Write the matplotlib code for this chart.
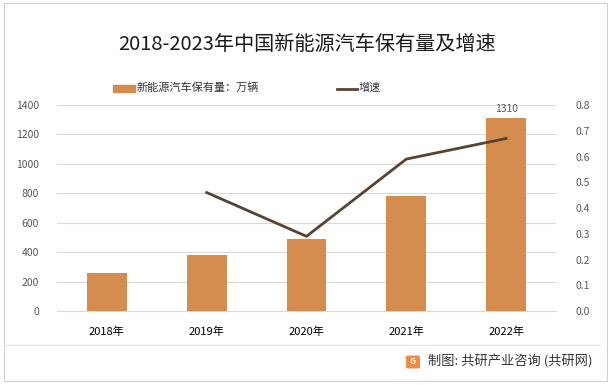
import matplotlib.pyplot as plt
from matplotlib.patches import FancyBboxPatch, Rectangle
from matplotlib.lines import Line2D

plt.rcParams['font.family'] = ['Noto Sans CJK SC', 'DejaVu Sans']

years = ['2018年', '2019年', '2020年', '2021年', '2022年']
stock = [261, 381, 492, 784, 1310]
growth_years = ['2019年', '2020年', '2021年', '2022年']
growth = [0.46, 0.29, 0.59, 0.67]

bar_color = '#D48C4F'
line_color = '#5A4232'
grid_color = '#D9D9D9'
tick_color = '#595959'

fig = plt.figure(figsize=(6.15, 3.85), dpi=100)
W, H = 615, 385
ax = fig.add_axes([57 / W, 1 - 311 / H, (556 - 57) / W, (311 - 105) / H])

x = list(range(len(years)))
ax.bar(x, stock, width=0.4, color=bar_color, zorder=3)
ax.set_ylim(0, 1400)
ax.set_yticks(range(0, 1401, 200))
ax.set_xlim(-0.5, len(years) - 0.5)
ax.set_xticks(x)
ax.set_xticklabels(years, fontsize=8, color='black')
ax.tick_params(axis='both', length=0)
ax.tick_params(axis='y', labelsize=7.5, labelcolor=tick_color, pad=13)
ax.tick_params(axis='x', pad=11)
ax.grid(axis='y', color=grid_color, linewidth=0.8, zorder=0)
for s in ['top', 'right', 'left']:
    ax.spines[s].set_visible(False)
ax.spines['bottom'].set_color(grid_color)

ax.text(x[-1], stock[-1] + 30, str(stock[-1]), ha='center', va='bottom',
        fontsize=7.5, color=tick_color)

ax2 = ax.twinx()
gx = [years.index(y) for y in growth_years]
ax2.plot(gx, growth, color=line_color, linewidth=2, zorder=4)
ax2.set_ylim(0, 0.8)
ax2.set_yticks([i / 10 for i in range(9)])
ax2.set_yticklabels([f'{i / 10:.1f}' for i in range(9)])
ax2.tick_params(axis='y', length=0, labelsize=7.5, labelcolor=tick_color, pad=14)
for s in ax2.spines.values():
    s.set_visible(False)

fig.text(0.5, 1 - 45 / H, '2018-2023年中国新能源汽车保有量及增速', ha='center',
         va='center', fontsize=14.5, color='#1a1a1a')

# legend
fig.patches.append(Rectangle((113 / W, 1 - 92 / H), 22 / W, 7 / H,
                             transform=fig.transFigure, color=bar_color))
fig.text(137 / W, 1 - 88 / H, '新能源汽车保有量：万辆', va='center', fontsize=8,
         color='#333333')
fig.lines.append(Line2D([337 / W, 357 / W], [1 - 89 / H, 1 - 89 / H],
                        transform=fig.transFigure, color=line_color, linewidth=2))
fig.text(359 / W, 1 - 88 / H, '增速', va='center', fontsize=8, color='#333333')

# frame and footer
fig.patches.append(Rectangle((4 / W, 4 / H), 603 / W, 378 / H, transform=fig.transFigure,
                             fill=False, edgecolor='#D0D0D0', linewidth=0.8))
fig.lines.append(Line2D([4 / W, 600 / W], [1 - 345 / H, 1 - 345 / H],
                        transform=fig.transFigure, color='#E3E3E3', linewidth=0.8))
fig.patches.append(FancyBboxPatch((408 / W, 1 - 367 / H), 10 / W, 10 / H,
                                  boxstyle='round,pad=0.002', transform=fig.transFigure,
                                  color='#F08A3C'))
fig.text(413 / W, 1 - 362 / H, 'G', ha='center', va='center', fontsize=6,
         color='white', fontweight='bold')
fig.text(428 / W, 1 - 362 / H, '制图: 共研产业咨询 (共研网)', va='center', fontsize=9.5,
         color='#333333')

fig.savefig('out.png', dpi=100)
